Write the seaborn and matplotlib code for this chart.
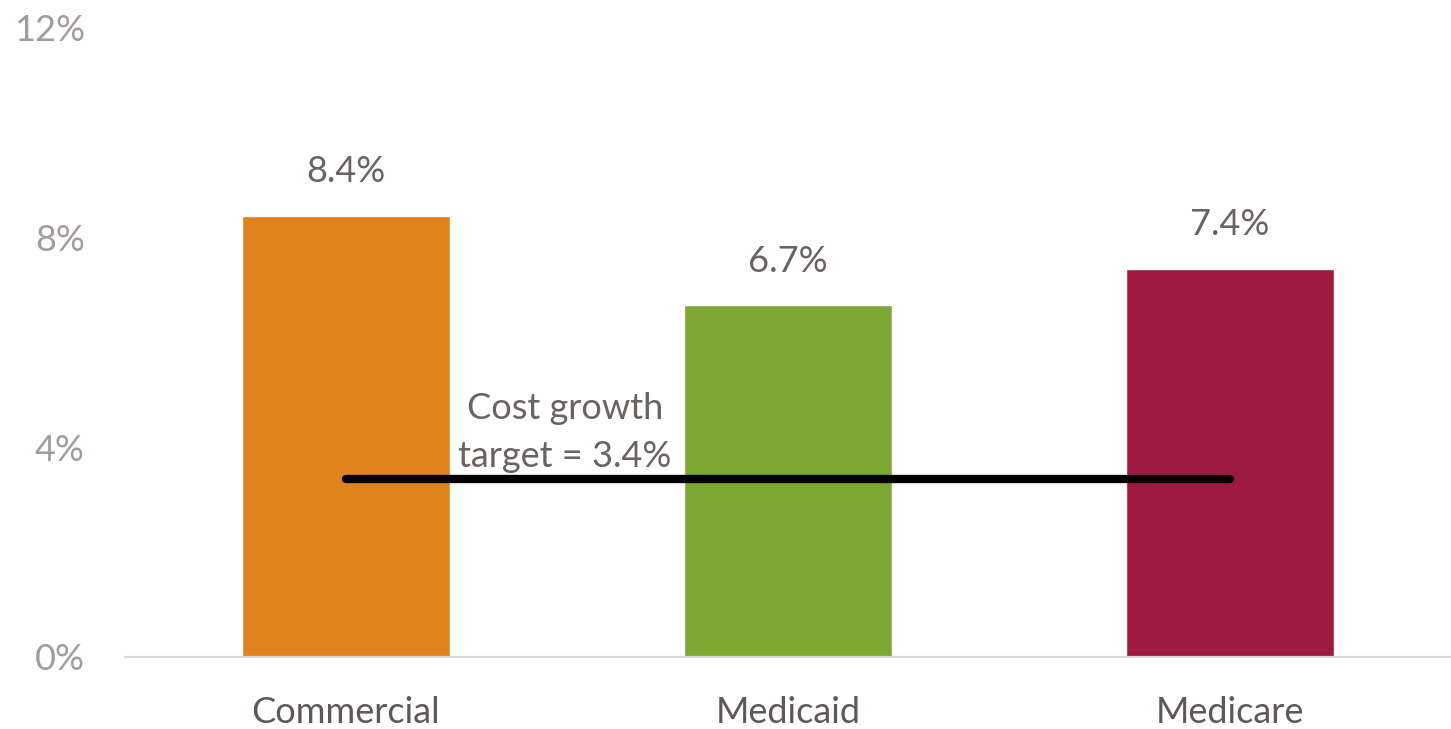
import matplotlib
matplotlib.use("Agg")
import matplotlib.pyplot as plt
import seaborn as sns
import pandas as pd

# data
payers = ["Commercial", "Medicaid", "Medicare"]
growth = [8.4, 6.7, 7.4]
bar_colors = ["#E0821E", "#7DA832", "#9E1B3F"]
target = 3.4
yticks = [0, 4, 8, 12]

sns.set_style("white")
plt.rcParams["font.family"] = ["Lato", "DejaVu Sans"]

df = pd.DataFrame({"payer": payers, "growth": growth})

fig = plt.figure(figsize=(14.51, 7.29), dpi=100)
ax = fig.add_axes([0.0861, 0.0988, 0.9139, 0.864])

sns.barplot(data=df, x="payer", y="growth", hue="payer", palette=bar_colors,
            width=0.47, legend=False, ax=ax, saturation=1)

for cont in ax.containers:
    ax.bar_label(cont, fmt="%.1f%%", padding=20, fontsize=26, color="#6b6262")

# target line
ax.plot([0, len(payers) - 1], [target, target], color="black", lw=6,
        solid_capstyle="round")
ax.text(0.495, 4.28, "Cost growth\ntarget = %.1f%%" % target, ha="center", va="center",
        fontsize=26, color="#6b6262", linespacing=1.55)

ax.set_ylim(0, 12)
ax.set_xlim(-0.5, 2.5)
ax.set_yticks(yticks)
ax.set_yticklabels(["%d%%" % t for t in yticks])
ax.set_xlabel("")
ax.set_ylabel("")
ax.tick_params(axis="y", length=0, pad=29, labelsize=26, labelcolor="#a39c9c")
ax.tick_params(axis="x", length=0, pad=28, labelsize=26, labelcolor="#5f5858")

for s in ["top", "left", "right"]:
    ax.spines[s].set_visible(False)
ax.spines["bottom"].set_color("#d9d9d9")
ax.spines["bottom"].set_linewidth(1.6)

fig.savefig("out.png", dpi=100)
